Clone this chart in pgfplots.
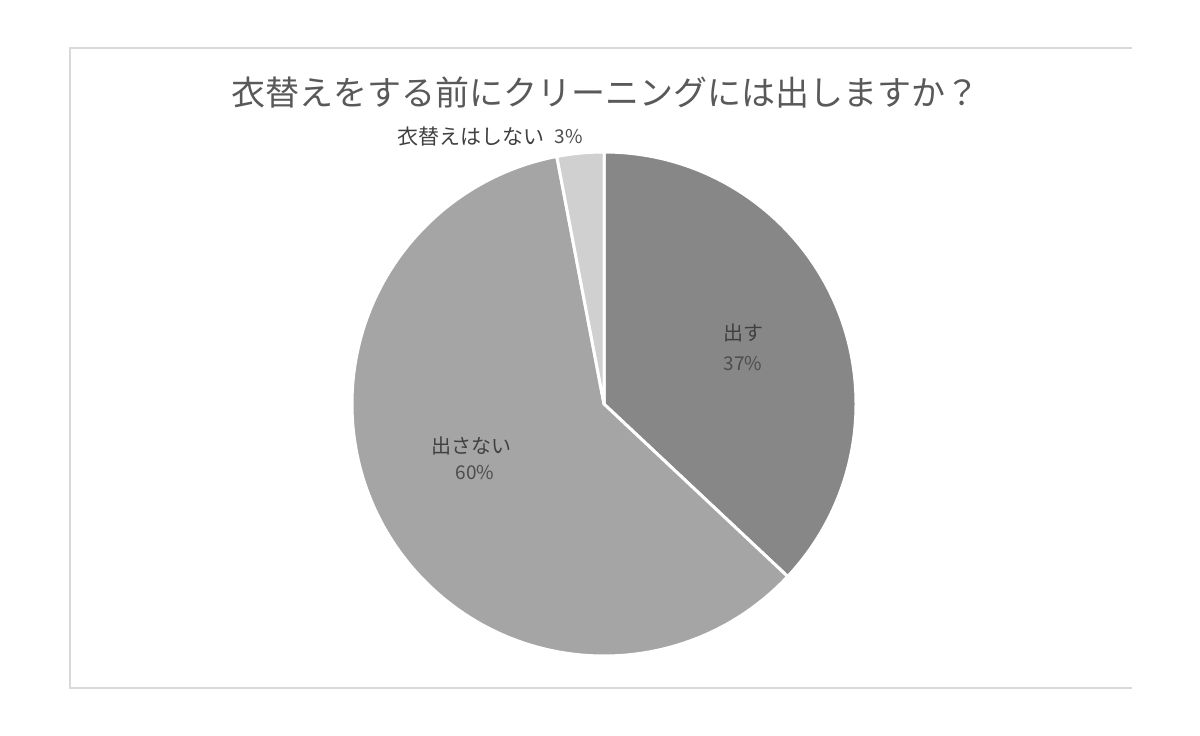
\documentclass[border=0pt]{standalone}
\usepackage{fontspec}
\setmainfont{Noto Sans CJK JP}
\usepackage{pgfplots}
\usepackage{pgfplotstable}
\pgfplotsset{compat=1.18}

\definecolor{slicedark}{HTML}{878787}
\definecolor{slicemid}{HTML}{A5A5A5}
\definecolor{slicelight}{HTML}{D0D0D0}
\definecolor{titlegray}{HTML}{595959}
\definecolor{labelgray}{HTML}{404040}
\definecolor{pctgray}{HTML}{4D4D4D}
\definecolor{framegray}{HTML}{D9D9D9}

% shares in percent, clockwise from the top
\pgfplotstableread{
share
37
60
3
}\piedata

\pgfplotstablegetelem{0}{share}\of\piedata \let\sA\pgfplotsretval
\pgfplotstablegetelem{1}{share}\of\piedata \let\sB\pgfplotsretval
\pgfplotstablegetelem{2}{share}\of\piedata \let\sC\pgfplotsretval
\pgfmathsetmacro\eA{90-3.6*\sA}
\pgfmathsetmacro\eB{\eA-3.6*\sB}
\pgfmathsetmacro\eC{\eB-3.6*\sC}

\begin{document}
\begin{tikzpicture}
\begin{axis}[
    width=600pt, height=367.5pt,
    scale only axis,
    xmin=0, xmax=1200, ymin=0, ymax=735,
    hide axis,
    clip=false,
    ]
    \path (axis cs:0,0) rectangle (axis cs:1200,735);

    % chart frame (open at the right)
    \draw[framegray, line width=0.6pt]
        (axis cs:1132,687) -- (axis cs:70,687) -- (axis cs:70,47) -- (axis cs:1132,47);

    % slices
    \filldraw[fill=slicedark, draw=white, line width=1.5pt]
        (axis cs:604,331) -- ++(90:126pt) arc[start angle=90, end angle=\eA, radius=126pt] -- cycle;
    \filldraw[fill=slicemid, draw=white, line width=1.5pt]
        (axis cs:604,331) -- ++(\eA:126pt) arc[start angle=\eA, end angle=\eB, radius=126pt] -- cycle;
    \filldraw[fill=slicelight, draw=white, line width=1.5pt]
        (axis cs:604,331) -- ++(\eB:126pt) arc[start angle=\eB, end angle=\eC, radius=126pt] -- cycle;

    % title
    \node[titlegray, font=\fontsize{17}{20}\selectfont] at (axis cs:605,643)
        {衣替えをする前にクリーニングには出しますか？};

    % labels
    \node[labelgray, font=\fontsize{10}{12}\selectfont] at (axis cs:743,402) {出す};
    \node[pctgray, font=\fontsize{9.5}{12}\selectfont] at (axis cs:743,371) {37\%};
    \node[labelgray, font=\fontsize{10}{12}\selectfont] at (axis cs:471,289) {出さない};
    \node[pctgray, font=\fontsize{9.5}{12}\selectfont] at (axis cs:475,262) {60\%};
    \node[labelgray, font=\fontsize{10.5}{12}\selectfont] at (axis cs:471,598) {衣替えはしない};
    \node[pctgray, font=\fontsize{9.5}{12}\selectfont] at (axis cs:569,598) {3\%};
\end{axis}
\end{tikzpicture}
\end{document}
